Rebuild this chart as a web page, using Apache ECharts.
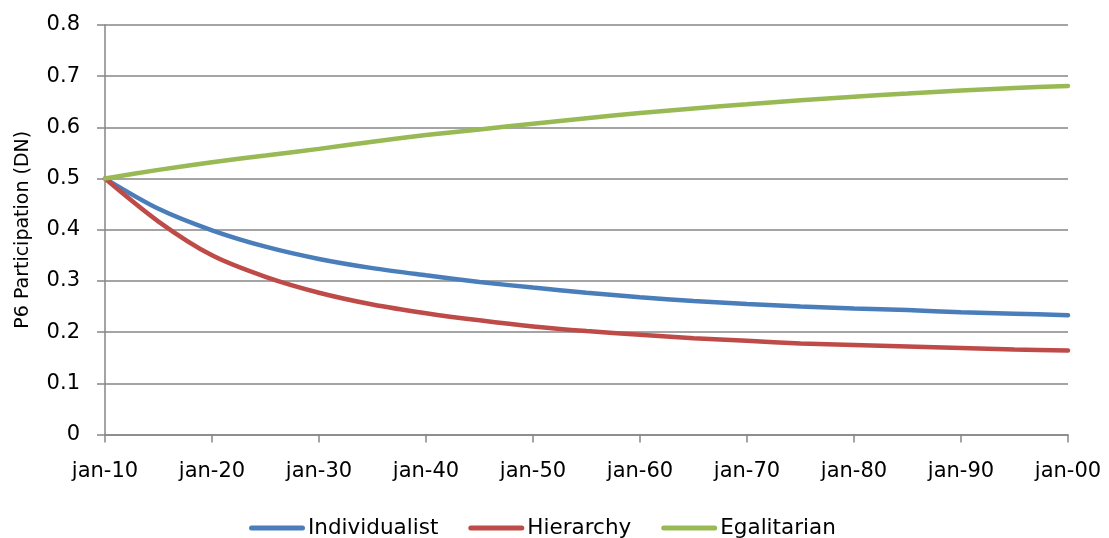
<!DOCTYPE html>
<html>
<head>
<meta charset="utf-8">
<title>P6 Participation (DN)</title>
<script src="https://cdn.jsdelivr.net/npm/echarts@6/dist/echarts.min.js"></script>
<style>
  html, body { margin: 0; padding: 0; background: #ffffff; }
  #chart { width: 1109px; height: 538px; }
</style>
</head>
<body>
<div id="chart"></div>
<script>
// Time points, every five years from January 2010 to January 2100
const categories = [
  'jan-10', 'jan-15', 'jan-20', 'jan-25', 'jan-30', 'jan-35', 'jan-40',
  'jan-45', 'jan-50', 'jan-55', 'jan-60', 'jan-65', 'jan-70', 'jan-75',
  'jan-80', 'jan-85', 'jan-90', 'jan-95', 'jan-00'
];

// Participation share per cultural type
const individualist = [
  0.500, 0.441, 0.399, 0.367, 0.343, 0.325, 0.311, 0.298, 0.287, 0.277,
  0.268, 0.261, 0.255, 0.250, 0.246, 0.243, 0.239, 0.236, 0.233
];
const hierarchy = [
  0.500, 0.416, 0.350, 0.308, 0.277, 0.254, 0.237, 0.223, 0.211, 0.202,
  0.195, 0.188, 0.183, 0.178, 0.175, 0.172, 0.169, 0.166, 0.164
];
const egalitarian = [
  0.500, 0.517, 0.532, 0.545, 0.558, 0.572, 0.585, 0.596, 0.607, 0.618,
  0.628, 0.637, 0.645, 0.653, 0.660, 0.666, 0.672, 0.677, 0.681
];

const seriesNames = ['Individualist', 'Hierarchy', 'Egalitarian'];
const seriesColors = ['#4a7ebb', '#be4b48', '#98b954'];
const seriesData = [individualist, hierarchy, egalitarian];

const axisGray = '#868686';
const font = 'DejaVu Sans';
// Legend key: a short thick stroke with rounded ends
const strokeIcon = 'path://M2.5,0 H53.5 A2.5,2.5 0 0 1 53.5,5 H2.5 A2.5,2.5 0 0 1 2.5,0 Z';

const chart = echarts.init(document.getElementById('chart'), null, { renderer: 'canvas' });

chart.setOption({
  animation: false,
  backgroundColor: '#ffffff',
  textStyle: { fontFamily: font, color: '#000000' },
  grid: { left: 105, right: 41, top: 25, bottom: 103.5, containLabel: false },
  legend: {
    data: seriesNames.map(name => ({ name, icon: strokeIcon })),
    left: 244,
    top: 512,
    itemWidth: 56,
    itemHeight: 5,
    itemGap: 30,
    textStyle: { fontFamily: font, fontSize: 21.5, color: '#000000', padding: [0, 0, 0, -2] }
  },
  xAxis: {
    type: 'category',
    data: categories,
    boundaryGap: false,
    axisLine: { lineStyle: { color: axisGray, width: 1.5 } },
    axisTick: { interval: 1, length: 8, lineStyle: { color: axisGray, width: 1.5 } },
    axisLabel: { interval: 1, margin: 27, fontFamily: font, fontSize: 21, color: '#000000' },
    splitLine: { show: false }
  },
  yAxis: {
    type: 'value',
    min: 0,
    max: 0.8,
    interval: 0.1,
    name: 'P6 Participation (DN)',
    nameLocation: 'middle',
    nameGap: 72,
    nameTextStyle: { fontFamily: font, fontSize: 19, color: '#000000' },
    axisLine: { show: true, lineStyle: { color: axisGray, width: 1.5 } },
    axisTick: { show: true, length: 8, lineStyle: { color: axisGray, width: 1.5 } },
    axisLabel: { margin: 25, fontFamily: font, fontSize: 21, color: '#000000' },
    splitLine: { lineStyle: { color: axisGray, width: 1.5 } }
  },
  series: seriesNames.map((name, i) => ({
    name,
    type: 'line',
    data: seriesData[i],
    smooth: 0.3,
    symbol: 'none',
    color: seriesColors[i],
    itemStyle: { color: seriesColors[i] },
    lineStyle: { color: seriesColors[i], width: 4.5, cap: 'round' }
  }))
});
</script>
</body>
</html>
